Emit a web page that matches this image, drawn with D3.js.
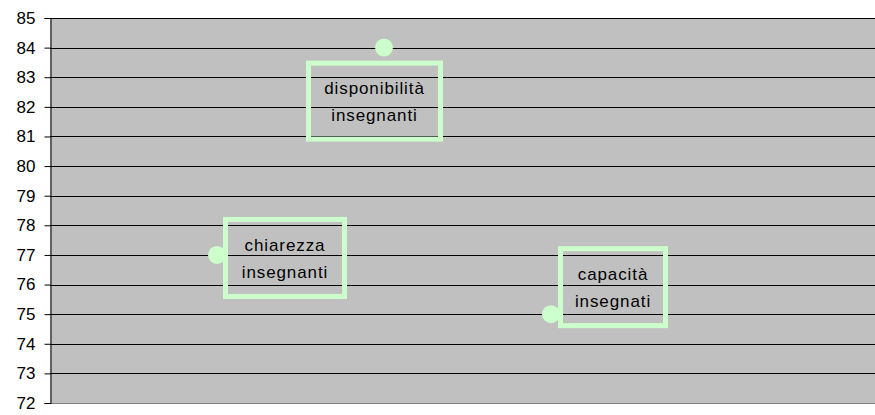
<!DOCTYPE html>
<html>
<head>
<meta charset="utf-8">
<script src="https://cdn.jsdelivr.net/npm/d3@7"></script>
<style>
  body { margin: 0; background: #fff; }
  text { font-family: "Liberation Sans", Arial, sans-serif; }
</style>
</head>
<body>
<div id="chart"></div>
<script>
// data
const categories = ["chiarezza\ninsegnanti", "disponibilità\ninsegnanti", "capacità\ninsegnati"];
const values = [77, 84, 75];
const positions = [1, 2, 3];
const yTicks = d3.range(72, 86, 1);

// label box layout relative to each point (dx, dy of outer box, width, height)
const boxes = [
  {dx: 6, dy: -38, w: 124, h: 82},
  {dx: -78, dy: 13, w: 137, h: 81},
  {dx: 7, dy: -68, w: 110, h: 82}
];

const width = 875, height = 415;
const svg = d3.select("#chart")
  .append("svg")
  .attr("width", width)
  .attr("height", height);

const x = d3.scaleLinear().domain([0, 5]).range([50, 885]);
const y = d3.scaleLinear().domain([72, 85]).range([403, 18]);

// plot background
svg.append("rect")
  .attr("x", 50).attr("y", 18)
  .attr("width", width - 50).attr("height", 385)
  .attr("fill", "#c0c0c0");

// gridlines
svg.append("g").selectAll("line")
  .data(yTicks.filter(d => d > 72))
  .enter().append("line")
  .attr("x1", 50).attr("x2", width)
  .attr("y1", d => Math.round(y(d)) + 0.5)
  .attr("y2", d => Math.round(y(d)) + 0.5)
  .attr("stroke", "#000")
  .attr("stroke-width", 1);

// bottom axis line
svg.append("line")
  .attr("x1", 50).attr("x2", width)
  .attr("y1", 403.5).attr("y2", 403.5)
  .attr("stroke", "#808080");

// y axis
const yAxis = d3.axisLeft(y)
  .tickValues(yTicks)
  .tickSize(6)
  .tickPadding(9)
  .tickFormat(d3.format("d"));
const gy = svg.append("g")
  .attr("transform", "translate(50.5,0)")
  .call(yAxis);
gy.select(".domain").attr("stroke", "#000");
gy.selectAll(".tick line").attr("stroke", "#000");
gy.selectAll(".tick text")
  .attr("fill", "#000")
  .style("font-size", "17px")
  .style("font-family", "'Liberation Sans', Arial, sans-serif");

// points
svg.append("g").selectAll("circle")
  .data(values)
  .enter().append("circle")
  .attr("cx", (d, i) => x(positions[i]))
  .attr("cy", d => y(d))
  .attr("r", 9)
  .attr("fill", "#ccffcc");

// labels
const labels = svg.append("g").selectAll("g")
  .data(values)
  .enter().append("g")
  .attr("transform", (d, i) => `translate(${x(positions[i]) + boxes[i].dx},${y(d) + boxes[i].dy})`);

labels.append("rect")
  .attr("x", 2.5).attr("y", 2.5)
  .attr("width", (d, i) => boxes[i].w - 5)
  .attr("height", (d, i) => boxes[i].h - 5)
  .attr("fill", "none")
  .attr("stroke", "#ccffcc")
  .attr("stroke-width", 5);

labels.each(function(d, i) {
  const lines = categories[i].split("\n");
  const t = d3.select(this).append("text")
    .attr("text-anchor", "middle")
    .attr("fill", "#000")
    .style("font-size", "17px")
    .style("letter-spacing", "0.9px");
  lines.forEach((ln, j) => {
    t.append("tspan")
      .attr("x", boxes[i].w / 2)
      .attr("y", boxes[i].h / 2 - 7 + j * 27)
      .text(ln);
  });
});
</script>
</body>
</html>
